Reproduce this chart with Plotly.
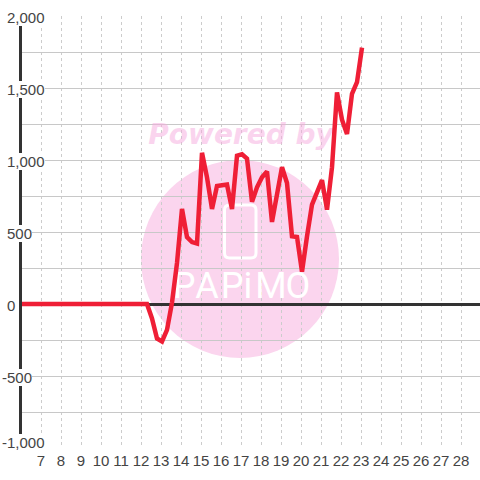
import plotly.graph_objects as go

days = [5.85, 6, 6.25, 6.5, 6.75, 7, 7.25, 7.5, 7.75, 8, 8.25, 8.5, 8.75, 9, 9.25, 9.5, 9.75,
        10, 10.25, 10.5, 10.75, 11, 11.25, 11.5, 11.75, 12, 12.3, 12.55, 12.8,
        13.05, 13.3, 13.55, 13.8, 14.05, 14.3, 14.55, 14.8, 15.05, 15.3, 15.55, 15.8,
        16.05, 16.3, 16.55, 16.8, 17.05, 17.3, 17.55, 17.8, 18.05, 18.3, 18.55, 18.8,
        19.05, 19.3, 19.55, 19.8, 20.05, 20.3, 20.55, 20.8, 21.05, 21.3, 21.55, 21.8,
        22.05, 22.3, 22.55, 22.8, 23.05]
values = [0, 0, 0, 0, 0, 0, 0, 0, 0, 0, 0, 0, 0, 0, 0, 0, 0,
          0, 0, 0, 0, 0, 0, 0, 0, 0, 0, -100, -240,
          -260, -180, 10, 285, 660, 465, 430, 420, 1050, 880, 660, 820,
          825, 830, 660, 1030, 1040, 1010, 710, 810, 880, 920, 570, 760,
          950, 840, 470, 465, 225, 470, 690, 775, 860, 655, 950, 1470,
          1280, 1180, 1460, 1540, 1780]

x_ticks = list(range(7, 29))
y_grid = [-1000, -750, -500, -250, 0, 250, 500, 750, 1000, 1250, 1500, 1750, 2000]
y_labels = {2000: "2,000", 1500: "1,500", 1000: "1,000", 500: "500", 0: "0", -500: "-500", -1000: "-1,000"}

W, H = 480, 480
L, R, T, B = 20, 0, 16, 32


def px(v):
    return (v - L) / (W - L - R)


def py(v):
    return 1 - (v - T) / (H - T - B)


def dx(v):
    return 7 + (v - 41) / 20


def dy(v):
    return (304 - v) * 500 / 72


fig = go.Figure()

# watermark text
fig.add_trace(go.Scatter(
    x=[dx(241)], y=[dy(137)], mode="text", text=["Powered by"], hoverinfo="skip",
    textfont=dict(family="DejaVu Sans", size=28, color="rgba(246,170,221,0.5)", weight="bold", style="italic"),
))
fig.add_trace(go.Scatter(
    x=[dx(v) for v in [184, 207, 232, 248, 271, 298]], y=[dy(289)] * 6, mode="text",
    text=["P", "A", "P", "i", "M", "O"], hoverinfo="skip",
    textfont=dict(family="Roboto", size=36, color="white", weight=400),
))

fig.add_trace(go.Scatter(
    x=days, y=values, mode="lines", cliponaxis=False, hoverinfo="skip",
    line=dict(color="#ef1f36", width=4.5, shape="linear"),
))

rx0, rx1, ry0, ry1, r = 224.5, 256, 205, 258, 5
phone = (
    f"M {px(rx0 + r)} {py(ry0)} L {px(rx1 - r)} {py(ry0)} "
    f"Q {px(rx1)} {py(ry0)} {px(rx1)} {py(ry0 + r)} L {px(rx1)} {py(ry1 - r)} "
    f"Q {px(rx1)} {py(ry1)} {px(rx1 - r)} {py(ry1)} L {px(rx0 + r)} {py(ry1)} "
    f"Q {px(rx0)} {py(ry1)} {px(rx0)} {py(ry1 - r)} L {px(rx0)} {py(ry0 + r)} "
    f"Q {px(rx0)} {py(ry0)} {px(rx0 + r)} {py(ry0)} Z"
)

shapes = [
    dict(type="circle", xref="paper", yref="paper", x0=px(141), x1=px(339), y0=py(358), y1=py(160),
         fillcolor="#fbd5ee", line=dict(width=0), layer="below"),
    dict(type="path", xref="paper", yref="paper", path=phone, line=dict(color="white", width=3),
         fillcolor="rgba(0,0,0,0)", layer="below"),
    dict(type="line", xref="paper", yref="paper", x0=px(20.5), x1=px(20.5), y0=0, y1=1,
         line=dict(color="#333333", width=3), layer="above"),
]

annotations = []
for val, label in y_labels.items():
    annotations.append(dict(
        xref="paper", yref="y", x=px(2 if val < 0 else 7), y=val, text=label, showarrow=False,
        xanchor="left", yanchor="middle", bgcolor="white", borderpad=0, borderwidth=0,
        yshift=6 if val == -1000 else -1,
        font=dict(family="Liberation Sans", size=15, color="#444444"),
    ))

fig.update_layout(
    width=W, height=H, autosize=False, showlegend=False,
    margin=dict(l=L, r=R, t=T, b=B, pad=0),
    paper_bgcolor="white", plot_bgcolor="white",
    shapes=shapes, annotations=annotations,
    xaxis=dict(
        range=[5.95, 28.95], tickmode="array", tickvals=x_ticks, ticktext=[str(v) for v in x_ticks],
        showgrid=True, gridcolor="#cccccc", gridwidth=1, griddash="3px,3px",
        zeroline=False, showline=False, ticks="", ticklabelstandoff=2,
        tickfont=dict(family="Liberation Sans", size=15, color="#444444"),
    ),
    yaxis=dict(
        range=[-1000, 2000], tickmode="array", tickvals=y_grid, showticklabels=False,
        showgrid=True, gridcolor="#c8c8c8", gridwidth=1,
        zeroline=True, zerolinecolor="#333333", zerolinewidth=3, showline=False, ticks="",
    ),
)

fig.write_html("out.html", config={"displayModeBar": False},
               post_script="document.body.style.margin='0';document.documentElement.style.overflow='hidden';")
